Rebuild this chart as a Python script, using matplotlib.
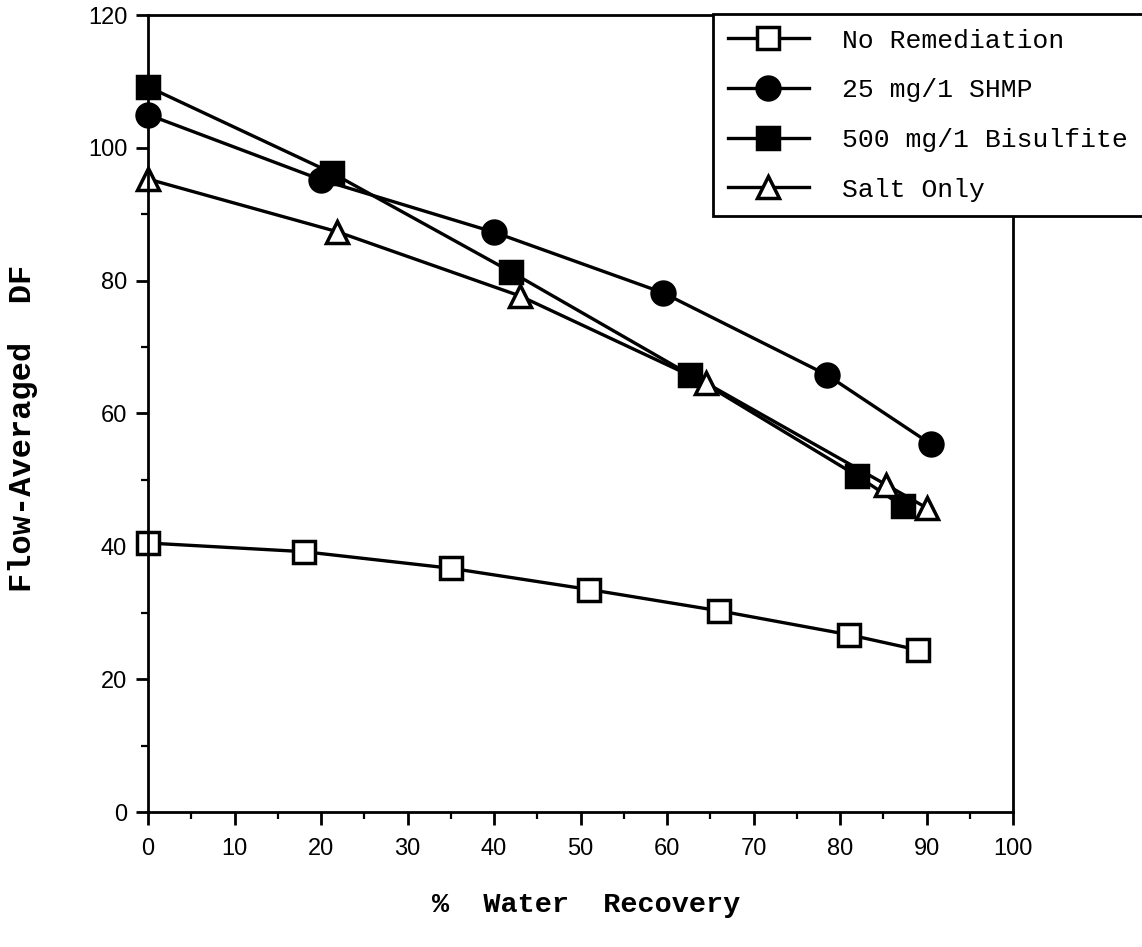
import matplotlib
matplotlib.use("Agg")
import matplotlib.pyplot as plt
from matplotlib.ticker import MultipleLocator

# Data
labels = ["No Remediation", "25 mg/1 SHMP", "500 mg/1 Bisulfite", "Salt Only"]

no_rem_x = [0, 18, 35, 51, 66, 81, 89]
no_rem_y = [40.5, 39.2, 36.7, 33.5, 30.3, 26.7, 24.4]

shmp_x = [0, 20, 40, 59.5, 78.5, 90.5]
shmp_y = [105.0, 95.2, 87.3, 78.2, 65.8, 55.4]

bis_x = [0, 21.3, 42, 62.7, 82, 87.3]
bis_y = [109.2, 96.2, 81.3, 65.8, 50.6, 46.0]

salt_x = [0, 21.8, 43, 64.5, 85.3, 90]
salt_y = [95.3, 87.4, 77.7, 64.6, 49.3, 45.8]

x_ticks = [0, 10, 20, 30, 40, 50, 60, 70, 80, 90, 100]
y_ticks = [0, 20, 40, 60, 80, 100, 120]

W, H = 1142, 947
fig = plt.figure(figsize=(W / 100, H / 100), dpi=100)
ax = fig.add_axes([148 / W, 1 - 812 / H, (1013 - 148) / W, (812 - 15) / H])

lw = 2.4
common = dict(color="black", linewidth=lw, markersize=16.5, markeredgewidth=2.5,
              markeredgecolor="black", clip_on=False)
ax.plot(no_rem_x, no_rem_y, marker="s", markerfacecolor="white", label=labels[0], **common)
ax.plot(shmp_x, shmp_y, marker="o", markerfacecolor="black", label=labels[1], **common)
ax.plot(bis_x, bis_y, marker="s", markerfacecolor="black", label=labels[2], **common)
ax.plot(salt_x, salt_y, marker="^", markerfacecolor="white", label=labels[3], **common)

ax.set_xlim(0, 100)
ax.set_ylim(0, 120)
ax.set_xticks(x_ticks)
ax.set_yticks(y_ticks)
ax.xaxis.set_minor_locator(MultipleLocator(5))
ax.yaxis.set_minor_locator(MultipleLocator(10))
ax.tick_params(which="major", direction="out", length=9, width=2, labelsize=17,
               pad=6, top=False, right=False)
ax.tick_params(axis="x", which="major", pad=10)
ax.tick_params(which="minor", direction="out", length=5, width=1.6, top=False, right=False)
for lab in ax.get_xticklabels() + ax.get_yticklabels():
    lab.set_fontfamily("Liberation Sans")
for s in ax.spines.values():
    s.set_linewidth(2)

fig.text(586 / W, 1 - 905 / H, "%  Water  Recovery", fontfamily="Liberation Mono",
         fontweight="bold", fontsize=20.5, ha="center", va="center")
fig.text(23 / W, 1 - 428 / H, "Flow-Averaged  DF", fontfamily="Liberation Mono",
         fontweight="bold", fontsize=23, ha="center", va="center", rotation=90)

leg = ax.legend(loc="upper left", bbox_to_anchor=((713 - 148) / 865, 1.001),
                borderaxespad=0, frameon=True,
                fancybox=False, edgecolor="black", framealpha=1,
                prop={"family": "Liberation Mono", "size": 19},
                handlelength=3.1, handletextpad=1.25, labelspacing=0.97,
                borderpad=0.55, markerscale=1.0)
leg.get_frame().set_linewidth(2)
leg.set_zorder(5)

fig.savefig("out.png", dpi=100)
